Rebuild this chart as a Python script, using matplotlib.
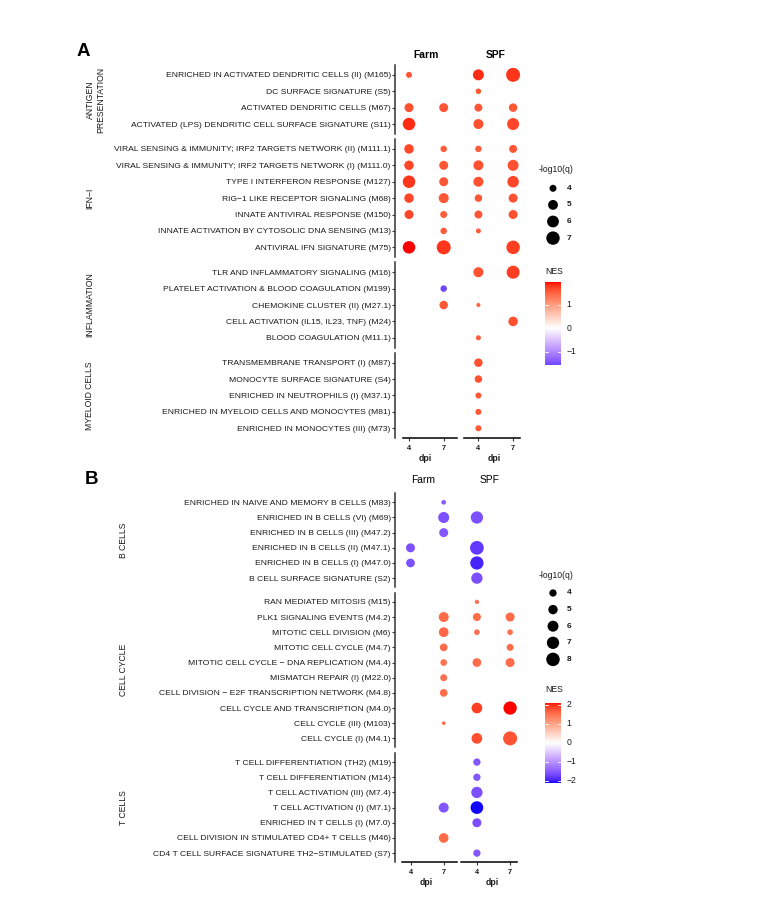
import numpy as np
import matplotlib
matplotlib.use("Agg")
import matplotlib.pyplot as plt
import matplotlib.colors as mcolors

plt.rcParams['font.family'] = ['Liberation Sans', 'DejaVu Sans']

W, H = 769, 915
dpi_ticks = ["4", "7", "4", "7"]   # Farm 4, Farm 7, SPF 4, SPF 7

# ---------------- panel A ----------------
a_groups = ["ANTIGEN\nPRESENTATION", "IFN−I", "INFLAMMATION", "MYELOID CELLS"]
a_group_sizes = [4, 7, 5, 5]
a_labels = [
    "ENRICHED IN ACTIVATED DENDRITIC CELLS (II) (M165)",
    "DC SURFACE SIGNATURE (S5)",
    "ACTIVATED DENDRITIC CELLS (M67)",
    "ACTIVATED (LPS) DENDRITIC CELL SURFACE SIGNATURE (S11)",
    "VIRAL SENSING & IMMUNITY; IRF2 TARGETS NETWORK (II) (M111.1)",
    "VIRAL SENSING & IMMUNITY; IRF2 TARGETS NETWORK (I) (M111.0)",
    "TYPE I INTERFERON RESPONSE (M127)",
    "RIG−1 LIKE RECEPTOR SIGNALING (M68)",
    "INNATE ANTIVIRAL RESPONSE (M150)",
    "INNATE ACTIVATION BY CYTOSOLIC DNA SENSING (M13)",
    "ANTIVIRAL IFN SIGNATURE (M75)",
    "TLR AND INFLAMMATORY SIGNALING (M16)",
    "PLATELET ACTIVATION & BLOOD COAGULATION (M199)",
    "CHEMOKINE CLUSTER (II) (M27.1)",
    "CELL ACTIVATION (IL15, IL23, TNF) (M24)",
    "BLOOD COAGULATION (M11.1)",
    "TRANSMEMBRANE TRANSPORT (I) (M87)",
    "MONOCYTE SURFACE SIGNATURE (S4)",
    "ENRICHED IN NEUTROPHILS (I) (M37.1)",
    "ENRICHED IN MYELOID CELLS AND MONOCYTES (M81)",
    "ENRICHED IN MONOCYTES (III) (M73)",
]
# NES per row: Farm 4, Farm 7, SPF 4, SPF 7
a_nes = [
    [1.60, None, 1.85, 1.80],
    [None, None, 1.60, None],
    [1.65, 1.60, 1.60, 1.60],
    [1.85, None, 1.65, 1.70],
    [1.70, 1.55, 1.55, 1.60],
    [1.70, 1.60, 1.65, 1.65],
    [1.80, 1.60, 1.65, 1.70],
    [1.70, 1.60, 1.60, 1.65],
    [1.70, 1.55, 1.60, 1.65],
    [None, 1.55, 1.55, None],
    [1.96, 1.80, None, 1.75],
    [None, None, 1.65, 1.75],
    [None, -1.57, None, None],
    [None, 1.60, 1.50, None],
    [None, None, None, 1.65],
    [None, None, 1.55, None],
    [None, None, 1.65, None],
    [None, None, 1.65, None],
    [None, None, 1.60, None],
    [None, None, 1.60, None],
    [None, None, 1.60, None],
]
# -log10(q)
a_q = [
    [3.78, None, 5.56, 7.43],
    [None, None, 3.69, None],
    [4.65, 4.65, 4.29, 4.46],
    [6.42, None, 5.07, 6.12],
    [4.85, 3.88, 3.88, 4.29],
    [4.85, 4.65, 5.07, 5.56],
    [6.42, 4.65, 5.07, 5.83],
    [4.85, 5.07, 4.14, 4.65],
    [4.65, 4.00, 4.29, 4.65],
    [None, 3.88, 3.62, None],
    [6.42, 7.43, None, 7.08],
    [None, None, 5.07, 6.74],
    [None, 3.88, None, None],
    [None, 4.46, 3.53, None],
    [None, None, None, 4.85],
    [None, None, 3.62, None],
    [None, None, 4.46, None],
    [None, None, 4.14, None],
    [None, None, 3.78, None],
    [None, None, 3.78, None],
    [None, None, 3.78, None],
]
a_size_breaks = [4, 5, 6, 7]

# ---------------- panel B ----------------
b_groups = ["B CELLS", "CELL CYCLE", "T CELLS"]
b_group_sizes = [6, 10, 7]
b_labels = [
    "ENRICHED IN NAIVE AND MEMORY B CELLS (M83)",
    "ENRICHED IN B CELLS (VI) (M69)",
    "ENRICHED IN B CELLS (III) (M47.2)",
    "ENRICHED IN B CELLS (II) (M47.1)",
    "ENRICHED IN B CELLS (I) (M47.0)",
    "B CELL SURFACE SIGNATURE (S2)",
    "RAN MEDIATED MITOSIS (M15)",
    "PLK1 SIGNALING EVENTS (M4.2)",
    "MITOTIC CELL DIVISION (M6)",
    "MITOTIC CELL CYCLE (M4.7)",
    "MITOTIC CELL CYCLE − DNA REPLICATION (M4.4)",
    "MISMATCH REPAIR (I) (M22.0)",
    "CELL DIVISION − E2F TRANSCRIPTION NETWORK (M4.8)",
    "CELL CYCLE AND TRANSCRIPTION (M4.0)",
    "CELL CYCLE (III) (M103)",
    "CELL CYCLE (I) (M4.1)",
    "T CELL DIFFERENTIATION (TH2) (M19)",
    "T CELL DIFFERENTIATION (M14)",
    "T CELL ACTIVATION (III) (M7.4)",
    "T CELL ACTIVATION (I) (M7.1)",
    "ENRICHED IN T CELLS (I) (M7.0)",
    "CELL DIVISION IN STIMULATED CD4+ T CELLS (M46)",
    "CD4 T CELL SURFACE SIGNATURE TH2−STIMULATED (S7)",
]
b_nes = [
    [None, -1.50, None, None],
    [None, -1.60, -1.60, None],
    [None, -1.55, None, None],
    [-1.60, None, -1.80, None],
    [-1.60, None, -1.95, None],
    [None, None, -1.60, None],
    [None, None, 1.50, None],
    [None, 1.55, 1.55, 1.55],
    [None, 1.60, 1.50, 1.50],
    [None, 1.55, None, 1.55],
    [None, 1.50, 1.55, 1.55],
    [None, 1.50, None, None],
    [None, 1.55, None, None],
    [None, None, 1.90, 2.12],
    [None, 1.50, None, None],
    [None, None, 1.80, 1.75],
    [None, None, -1.55, None],
    [None, None, -1.55, None],
    [None, None, -1.60, None],
    [None, -1.55, -2.10, None],
    [None, None, -1.60, None],
    [None, 1.55, None, None],
    [None, None, -1.55, None],
]
b_q = [
    [None, 3.23, None, None],
    [None, 6.03, 7.00, None],
    [None, 4.80, None, None],
    [4.80, None, 8.20, None],
    [4.64, None, 7.84, None],
    [None, None, 6.24, None],
    [None, None, 3.16, None],
    [None, 5.37, 4.30, 4.80],
    [None, 5.19, 3.46, 3.46],
    [None, 4.17, None, 3.88],
    [None, 3.77, 4.64, 4.80],
    [None, 3.88, None, None],
    [None, 4.17, None, None],
    [None, None, 5.82, 7.84],
    [None, 3.08, None, None],
    [None, None, 5.82, 8.48],
    [None, None, 4.00, None],
    [None, None, 4.00, None],
    [None, None, 6.24, None],
    [None, 5.37, 7.33, None],
    [None, None, 4.80, None],
    [None, 5.19, None, None],
    [None, None, 4.00, None],
]
b_size_breaks = [4, 5, 6, 7, 8]


# blue - white - red ramp interpolated in Lab (as ggplot gradient2)
M = np.array([[0.4124, 0.3576, 0.1805], [0.2126, 0.7152, 0.0722], [0.0193, 0.1192, 0.9505]])
WP = np.array([0.95047, 1.0, 1.08883])

def to_lab(c):
    rgb = np.array(mcolors.to_rgb(c))
    lin = np.where(rgb <= 0.04045, rgb / 12.92, ((rgb + 0.055) / 1.055) ** 2.4)
    xyz = M @ lin / WP
    f = np.where(xyz > 0.008856, np.cbrt(xyz), 7.787 * xyz + 16 / 116)
    return np.array([116 * f[1] - 16, 500 * (f[0] - f[1]), 200 * (f[1] - f[2])])

def from_lab(lab):
    fy_ = (lab[:, 0] + 16) / 116
    f = np.stack([fy_ + lab[:, 1] / 500, fy_, fy_ - lab[:, 2] / 200], -1)
    xyz = np.where(f ** 3 > 0.008856, f ** 3, (f - 16 / 116) / 7.787) * WP
    lin = np.clip(xyz @ np.linalg.inv(M).T, 0, None)
    rgb = np.where(lin <= 0.0031308, 12.92 * lin, 1.055 * lin ** (1 / 2.4) - 0.055)
    return np.clip(rgb, 0, 1)

lb, lw, lr = to_lab("blue"), to_lab("white"), to_lab("red")
t = np.linspace(0, 1, 128)[:, None]
ramp = np.vstack([lb + (lw - lb) * t, lw + (lr - lw) * t])
cmap = mcolors.ListedColormap(from_lab(ramp))


def fx(px):
    return px / W

def fy(py):
    return 1 - py / H

def diam_a(q):
    return 3.1 + 5.5 * np.sqrt(max(q - 3.5, 0))

def diam_b(q):
    return 2.3 + 5.0 * np.sqrt(max(q - 3.0, 0))


fig = plt.figure(figsize=(W / 100, H / 100), dpi=100)
over = fig.add_axes([0, 0, 1, 1])
over.set_xlim(0, W)
over.set_ylim(H, 0)
over.axis('off')

TXT = "#1a1a1a"
SP_X, SP_R = 395, 530


def draw_panel(letter, letter_xy, labels, groups, sizes, nes, q, diam, lay, head_bold):
    vals = [v for row in nes for v in row if v is not None]
    lim = max(abs(min(vals)), abs(max(vals)))
    norm = mcolors.Normalize(-lim, lim)
    x0, dx = lay["x0"], lay["dx"]
    y = lay["top"]
    start = 0
    ax = None
    for g, n in zip(groups, sizes):
        h = (n - 1 + 1.2) * lay["row"]
        ax = fig.add_axes([fx(SP_X), fy(y + h), (SP_R - SP_X) / W, h / H])
        ax.patch.set_alpha(0)
        ax.set_xlim(-(x0 - SP_X) / dx, (SP_R - x0) / dx)
        ax.set_ylim(n - 0.4, -0.6)
        xs, ys, cs, ss = [], [], [], []
        for i in range(n):
            for j in range(4):
                v = nes[start + i][j]
                if v is None:
                    continue
                xs.append(j)
                ys.append(i)
                cs.append(v)
                ss.append((diam(q[start + i][j]) * 0.72) ** 2)
        ax.scatter(xs, ys, s=ss, c=cs, cmap=cmap, norm=norm, linewidths=0,
                   clip_on=False, zorder=3)
        ax.set_yticks(range(n))
        ax.set_yticklabels(labels[start:start + n], fontsize=6.1, color=TXT)
        ax.tick_params(axis='y', length=2, width=0.8, pad=1, color="#333333")
        ax.set_xticks([])
        for s in ["top", "right", "bottom"]:
            ax.spines[s].set_visible(False)
        ax.spines["left"].set_linewidth(1.1)
        ax.spines["left"].set_color("#333333")
        over.text(lay["strip_x"], y + h / 2, g, rotation=90, ha='left', va='center',
                  multialignment='center', fontsize=6.2, color=TXT)
        y += h + lay["gap"]
        start += n

    # bottom dpi axes
    tr = ax.get_xaxis_transform()
    ax.plot(lay["farm_line"], [0, 0], color="black", lw=1.1, transform=tr, clip_on=False)
    ax.plot(lay["spf_line"], [0, 0], color="black", lw=1.1, transform=tr, clip_on=False)
    ax.set_xticks(range(4))
    ax.set_xticklabels(dpi_ticks, fontsize=5.3, fontweight='bold', color=TXT)
    ax.tick_params(axis='x', length=2.2, width=0.8, pad=2.5, color="#333333")
    bottom = y - lay["gap"]
    for k in (0.5, 2.5):
        over.text(x0 + k * dx - 1, bottom + 20, "dpi", ha='center', va='center',
                  fontsize=6.2, fontweight='bold', color=TXT)
    # column headers
    for k, name in ((0.5, "Farm"), (2.5, "SPF")):
        over.text(x0 + k * dx + lay["head_dx"], lay["head_y"], name, ha='center',
                  va='center', fontsize=7.4, color="black",
                  fontweight='bold' if head_bold else 'normal')
    over.text(letter_xy[0], letter_xy[1], letter, ha='center', va='center',
              fontsize=13.5, fontweight='bold', color="black")
    return min(vals), max(vals), lim


def draw_legends(breaks, diam, vmin, vmax, lim, lay):
    over.text(539, lay["size_title"], "-log10(q)", ha='left', va='center',
              fontsize=6.2, color=TXT)
    ks = [diam(b) for b in breaks]
    ky = [lay["size_key0"] + 16.6 * i for i in range(len(breaks))]
    over.scatter([553] * len(breaks), ky, s=[(d * 0.72) ** 2 for d in ks],
                 color="black", linewidths=0)
    for b, yy in zip(breaks, ky):
        over.text(567, yy, str(b), ha='left', va='center', fontsize=6,
                  fontweight='bold', color=TXT)
    over.text(545, lay["nes_title"], "NES", ha='left', va='center', fontsize=6.2,
              color=TXT)
    h = (vmax - vmin) * lay["ppu"]
    cax = fig.add_axes([fx(545), fy(lay["cb_top"] + h), 16 / W, h / H])
    grad = np.linspace(vmin, vmax, 256).reshape(-1, 1)
    cax.imshow(grad, extent=[0, 1, vmin, vmax], origin='lower', aspect='auto',
               cmap=cmap, norm=mcolors.Normalize(-lim, lim))
    cax.set_xlim(0, 1)
    cax.set_ylim(vmin, vmax)
    cax.axis('off')
    for tk in range(int(np.ceil(vmin)), int(np.floor(vmax)) + 1):
        cax.plot([0, 0.2], [tk, tk], color="white", lw=0.6)
        cax.plot([0.8, 1], [tk, tk], color="white", lw=0.6)
        lab = str(tk).replace("-", "−")
        cax.text(1.35, tk, lab, transform=cax.get_yaxis_transform(), ha='left',
                 va='center', fontsize=6.2, color=TXT)


lay_a = dict(top=65, row=16.4, gap=5.2, x0=409, dx=34.7, strip_x=85.5,
             farm_line=[-0.17, 1.38], spf_line=[1.58, 3.2], head_y=55, head_dx=0)
va = draw_panel("A", (83, 52), a_labels, a_groups, a_group_sizes, a_nes, a_q,
                diam_a, lay_a, True)
draw_legends(a_size_breaks, diam_a, *va,
             dict(size_title=170, size_key0=188.3, nes_title=272, cb_top=282, ppu=23.5))

lay_b = dict(top=493.2, row=15.17, gap=5.5, x0=410.5, dx=33.2, strip_x=119.5,
             farm_line=[-0.26, 1.4], spf_line=[1.52, 3.2], head_y=480, head_dx=-4)
vb = draw_panel("B", (91, 480), b_labels, b_groups, b_group_sizes, b_nes, b_q,
                diam_b, lay_b, False)
draw_legends(b_size_breaks, diam_b, *vb,
             dict(size_title=576, size_key0=593, nes_title=690, cb_top=702.7, ppu=19))

fig.savefig("out.png", dpi=100, facecolor="white")
